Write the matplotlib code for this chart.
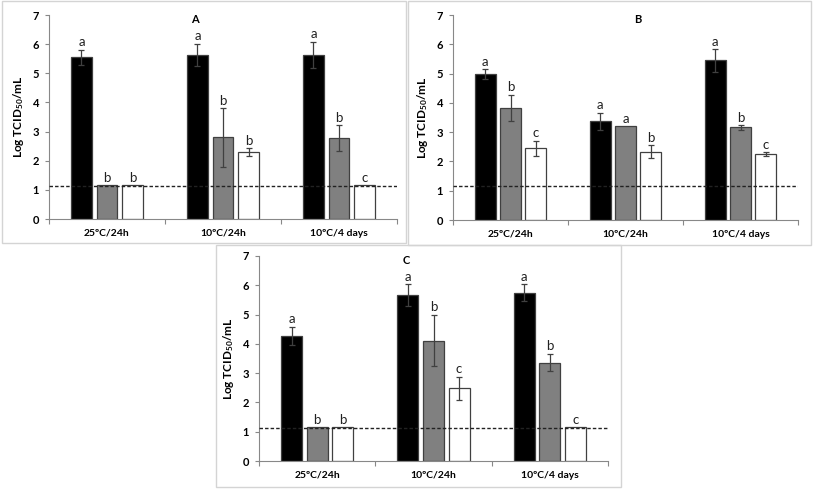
import numpy as np
import matplotlib
matplotlib.use('Agg')
import matplotlib.pyplot as plt
from matplotlib.patches import Rectangle

plt.rcParams['font.family'] = ['Lato', 'DejaVu Sans']
plt.rcParams['mathtext.fontset'] = 'custom'
plt.rcParams['mathtext.rm'] = 'Lato:bold'
plt.rcParams['mathtext.it'] = 'Lato:bold'
plt.rcParams['mathtext.bf'] = 'Lato:bold'

groups = ['25ºC/24h', '10ºC/24h', '10ºC/4 days']

# panel A
a_black = [5.55, 5.63, 5.63]
a_black_err = [0.26, 0.39, 0.45]
a_gray = [1.16, 2.8, 2.77]
a_gray_err = [0, 1.0, 0.44]
a_white = [1.16, 2.3, 1.16]
a_white_err = [0, 0.14, 0]
a_letters = [['a', 'a', 'a'], ['b', 'b', 'b'], ['b', 'b', 'c']]
a_limit = 1.14

# panel B
b_black = [4.98, 3.37, 5.45]
b_black_err = [0.17, 0.3, 0.38]
b_gray = [3.83, 3.21, 3.16]
b_gray_err = [0.45, 0, 0.08]
b_white = [2.45, 2.33, 2.24]
b_white_err = [0.26, 0.22, 0.07]
b_letters = [['a', 'a', 'a'], ['b', 'a', 'b'], ['c', 'b', 'c']]
b_limit = 1.17

# panel C
c_black = [4.28, 5.66, 5.75]
c_black_err = [0.31, 0.38, 0.29]
c_gray = [1.15, 4.11, 3.36]
c_gray_err = [0, 0.88, 0.3]
c_white = [1.15, 2.48, 1.15]
c_white_err = [0, 0.4, 0]
c_letters = [['a', 'a', 'a'], ['b', 'b', 'b'], ['b', 'c', 'c']]
c_limit = 1.14

W, H = 815, 490
fig = plt.figure(figsize=(W / 100, H / 100), dpi=100)


def px_axes(x0, x1, ytop, ybot):
    return fig.add_axes([x0 / W, 1 - ybot / H, (x1 - x0) / W, (ybot - ytop) / H])


def border(x0, y0, x1, y1):
    fig.patches.append(Rectangle((x0 / W, 1 - y1 / H), (x1 - x0) / W, (y1 - y0) / H,
                                 transform=fig.transFigure, fill=False,
                                 edgecolor='#d4d4d4', lw=1.0))


def panel(ax, series, errs, letters, limit, title, title_x):
    x = np.arange(len(groups))
    colors = ['black', '#808080', 'white']
    offs = [-0.22, 0, 0.22]
    for k in range(3):
        ax.bar(x + offs[k], series[k], 0.18, color=colors[k],
               edgecolor='#404040', linewidth=0.9, zorder=2)
        e = np.array(errs[k])
        ax.errorbar(x + offs[k], series[k], yerr=np.where(e > 0, e, np.nan),
                    fmt='none', ecolor='#404040', elinewidth=0.9,
                    capsize=2.3, capthick=0.9, zorder=3)
        for i in range(len(groups)):
            top = series[k][i] + errs[k][i]
            ax.annotate(letters[k][i], (x[i] + offs[k], top), xytext=(0, 1),
                        textcoords='offset points', ha='center', va='bottom',
                        fontsize=9.5, color='#222222')
    ax.axhline(limit, color='#222222', lw=1.0, ls=(0, (2.5, 1.5)), zorder=4)
    ax.set_xlim(-0.5, 2.5)
    ax.set_ylim(0, 7)
    ax.set_yticks(range(8))
    ax.set_xticks(x)
    ax.set_xticklabels(groups, fontsize=7.5, fontweight='bold')
    ax.set_xticks([-0.5, 0.5, 1.5, 2.5], minor=True)
    ax.tick_params(axis='x', which='major', length=0, pad=7)
    ax.tick_params(axis='x', which='minor', length=3.5, color='#888888', width=0.8)
    ax.tick_params(axis='y', length=3, color='#888888', width=0.8, labelsize=8, pad=4)
    for lab in ax.get_yticklabels():
        lab.set_fontweight('bold')
    for s in ['top', 'right']:
        ax.spines[s].set_visible(False)
    for s in ['left', 'bottom']:
        ax.spines[s].set_color('#888888')
        ax.spines[s].set_linewidth(0.8)
    ax.set_ylabel(r'Log TCID$_{50}$/mL', fontsize=8.5, fontweight='bold', labelpad=5)
    ax.text(title_x, 6.85, title, ha='center', va='center', fontsize=8, fontweight='bold')


border(2, 1, 406, 243)
border(408, 1, 811, 245)
border(216, 245, 621, 487)

ax_a = px_axes(49, 397, 15, 219)
panel(ax_a, [a_black, a_gray, a_white], [a_black_err, a_gray_err, a_white_err],
      a_letters, a_limit, 'A', 0.76)
ax_b = px_axes(453, 798, 15, 220)
panel(ax_b, [b_black, b_gray, b_white], [b_black_err, b_gray_err, b_white_err],
      b_letters, b_limit, 'B', 1.11)
ax_c = px_axes(259, 608, 256, 461)
panel(ax_c, [c_black, c_gray, c_white], [c_black_err, c_gray_err, c_white_err],
      c_letters, c_limit, 'C', 0.77)

fig.savefig('out.png', dpi=100, facecolor='white')
